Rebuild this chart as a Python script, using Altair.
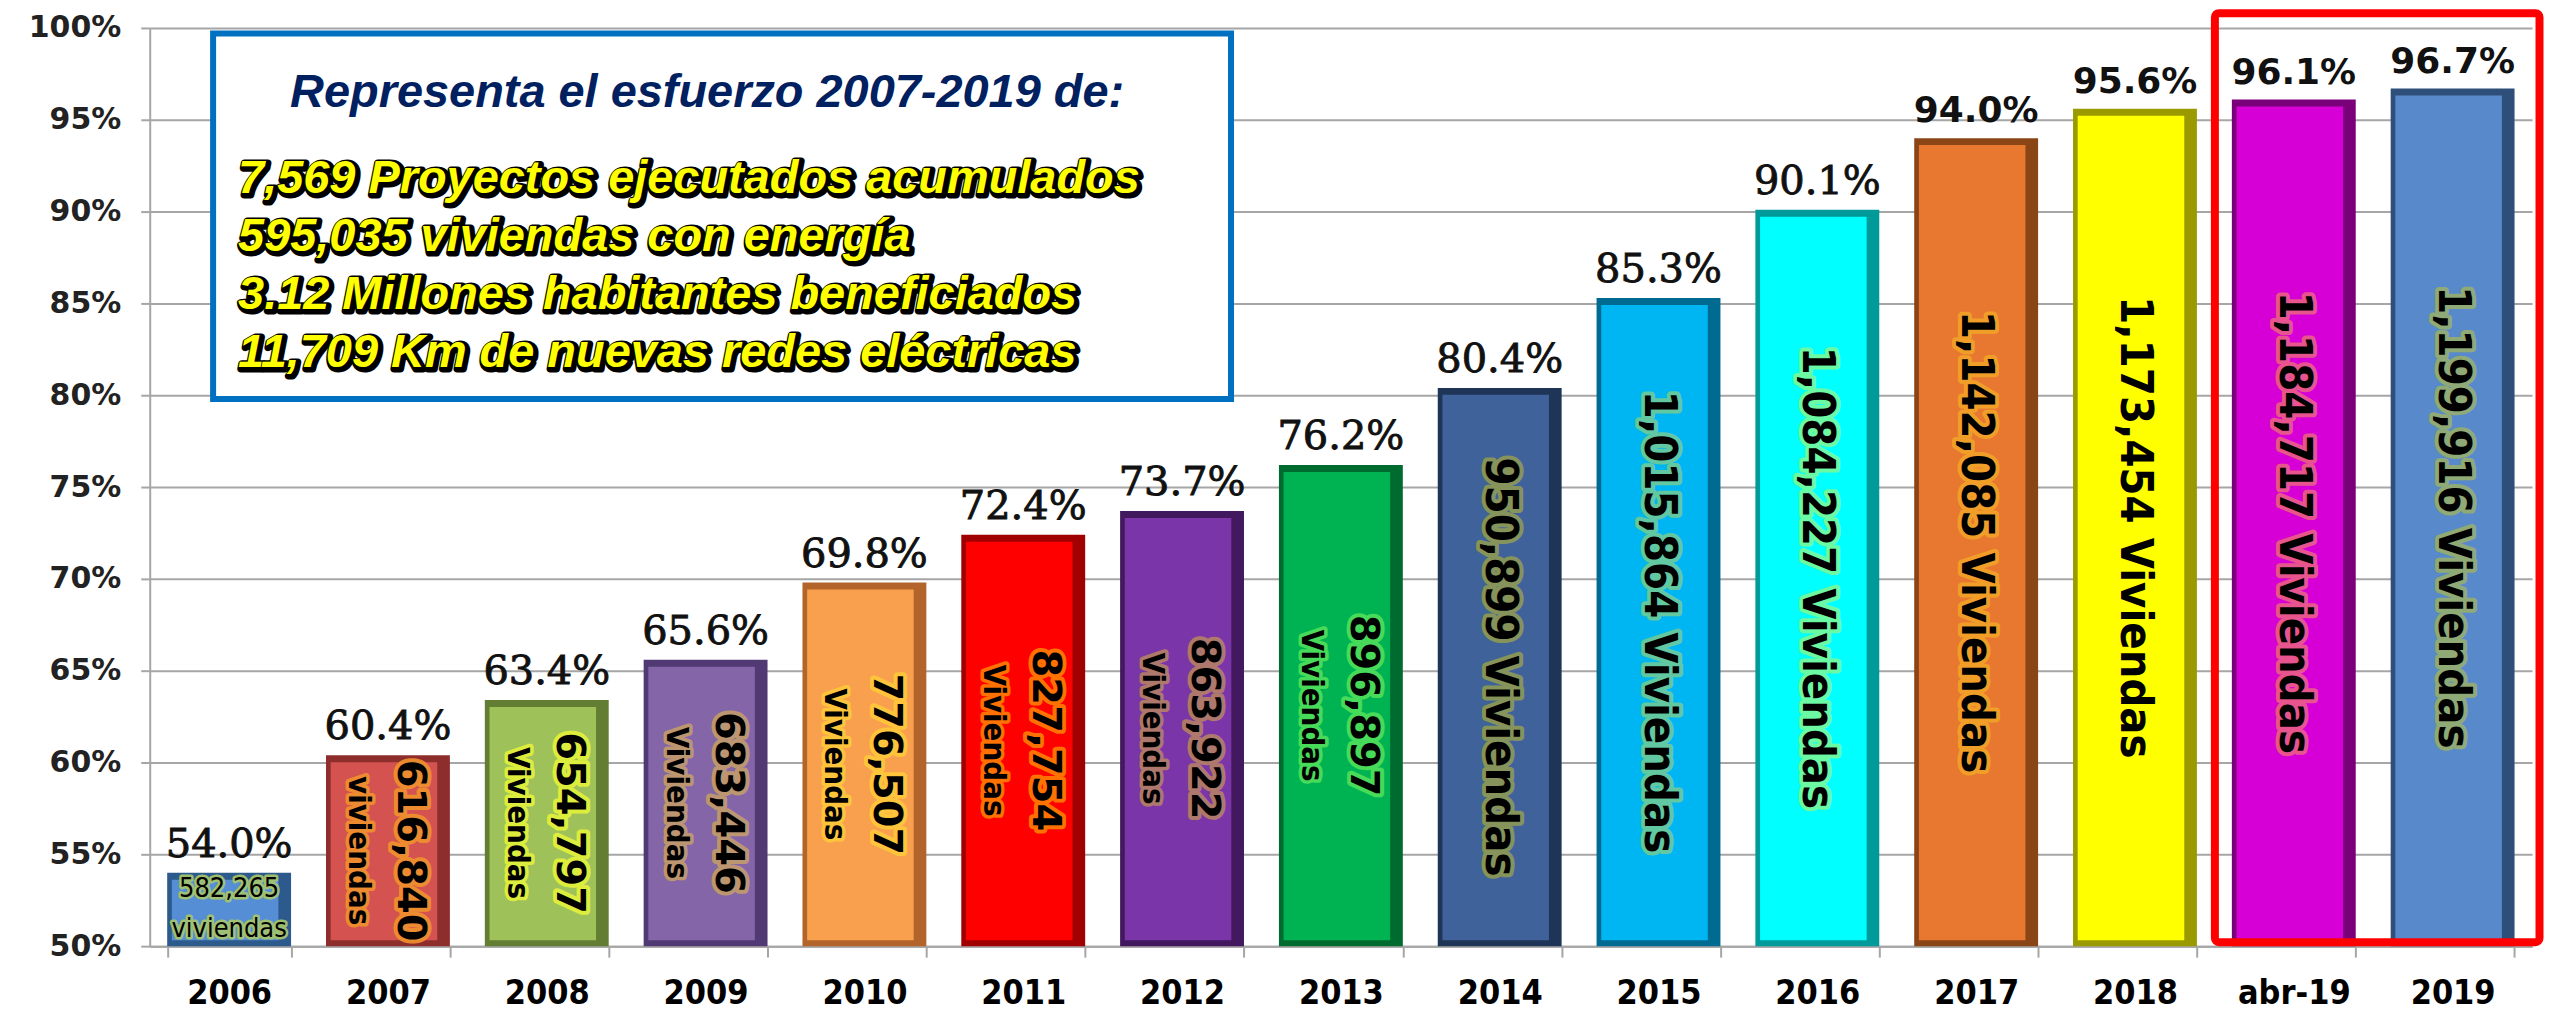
import altair as alt
import pandas as pd

# ---------------- data ----------------
CATEGORIAS = ["2006", "2007", "2008", "2009", "2010", "2011", "2012", "2013",
              "2014", "2015", "2016", "2017", "2018", "abr-19", "2019"]
PORCENTAJES = [54.0, 60.4, 63.4, 65.6, 69.8, 72.4, 73.7, 76.2,
               80.4, 85.3, 90.1, 94.0, 95.6, 96.1, 96.7]
VIVIENDAS = [582265, 616840, 654797, 683446, 776507, 827754, 863922, 896897,
             950899, 1015864, 1084227, 1142085, 1173454, 1184717, 1199916]
PALABRA = ["viviendas", "viviendas"] + ["Viviendas"] * 13

TITULO_CUADRO = "Representa el esfuerzo 2007-2019 de:"
LINEAS_CUADRO = [
    "7,569 Proyectos ejecutados acumulados",
    "595,035 viviendas con energía",
    "3.12 Millones habitantes beneficiados",
    "11,709  Km de nuevas redes eléctricas",
]

# ---------------- styles ----------------
COLOR_BARRA = ["#558ED5", "#D45350", "#9FC15A", "#8466A8", "#F9A04F", "#FF0000",
               "#7A35A8", "#00B352", "#3E6299", "#00B6F2", "#00FFFF", "#E8772F",
               "#FFFF00", "#D600D6", "#5889CB"]
COLOR_BORDE = ["#2D5A8C", "#8E2E2C", "#637D33", "#513A74", "#B2642A", "#A00000",
               "#42185F", "#006B2E", "#1F3558", "#006A90", "#009A9A", "#8A4516",
               "#9A9A00", "#7A007A", "#2E4F7A"]
COLOR_HALO = ["#A9C76A", "#F0922E", "#E4F23A", "#C19C6C", "#FFC93A", "#FF7E00",
              "#B48067", "#4FE05A", "#8E9A55", "#6CCB9A", "#78F99A", "#F2A329",
              "#FFFF00", "#EA5E86", "#95AE6E"]

GRIS = "#A6A6A6"

df = pd.DataFrame({
    "cat": CATEGORIAS,
    "pct": PORCENTAJES,
    "viv": VIVIENDAS,
    "palabra": PALABRA,
    "idx": list(range(len(CATEGORIAS))),
    "c_main": COLOR_BARRA,
    "c_dark": COLOR_BORDE,
    "c_halo": COLOR_HALO,
})

y_scale = alt.Scale(domain=[50, 100], nice=False, zero=False)
x_scale = alt.Scale(domain=CATEGORIAS, paddingInner=0.22, paddingOuter=0.11)

X_AXIS = alt.Axis(title=None, labelAngle=0, tickBand="extent", tickSize=11,
                  tickWidth=2, tickColor=GRIS, domainColor=GRIS, domainWidth=2,
                  labelFont="DejaVu Sans Condensed", labelFontSize=34,
                  labelFontWeight="bold", labelColor="#000000", labelPadding=19,
                  grid=False)
Y_AXIS = alt.Axis(title=None, values=list(range(50, 101, 5)),
                  labelExpr="datum.value + '%'", grid=True, gridColor=GRIS,
                  gridWidth=2, domainColor=GRIS, domainWidth=2, tickColor=GRIS,
                  tickWidth=2, tickSize=9, labelFont="DejaVu Sans",
                  labelFontWeight="bold", labelFontSize=30, labelColor="#222222",
                  labelPadding=20)


def xf():
    return alt.X("cat:N", sort=CATEGORIAS, scale=x_scale, axis=X_AXIS)


def yf(field):
    return alt.Y(field, scale=y_scale, axis=Y_AXIS)


def xd(cat, pos):
    return alt.XDatum(cat, type="nominal", bandPosition=pos, scale=x_scale,
                      axis=X_AXIS)


def yd(v):
    return alt.YDatum(v, type="quantitative", scale=y_scale, axis=Y_AXIS)


base = alt.Chart(df).transform_calculate(
    mid="(50 + datum.pct) / 2",
    numtxt="format(datum.viv, ',')",
    linea="format(datum.viv, ',') + ' ' + datum.palabra",
    pcttxt="format(datum.pct, '.1f') + '%'",
)

# bars (bevel look: dark base + inset main colour)
bar_dark = base.mark_bar().encode(
    x=xf(), y=yf("pct:Q"), y2=alt.datum(50),
    color=alt.Color("c_dark:N", scale=None),
)
bar_main = base.mark_bar(width=alt.RelativeBandSize(0.86), xOffset=-4,
                         yOffset=7, y2Offset=-6).encode(
    x=xf(), y=yf("pct:Q"), y2=alt.datum(50),
    color=alt.Color("c_main:N", scale=None),
)

# percentage labels
pct_serif = base.transform_filter("datum.idx <= 10").mark_text(
    font="DejaVu Serif", fontSize=40, baseline="alphabetic", dy=-16,
    color="#111111", stroke="#111111", strokeWidth=0.9).encode(
    x=xf(), y=yf("pct:Q"), text="pcttxt:N")
pct_sans = base.transform_filter("datum.idx >= 11").mark_text(
    font="DejaVu Sans", fontWeight="bold", fontSize=36, baseline="alphabetic",
    dy=-16, color="#111111").encode(x=xf(), y=yf("pct:Q"), text="pcttxt:N")


def halo_and_text(data, text_field, halo_width, **mk):
    halo = data.mark_text(strokeWidth=halo_width, strokeJoin="round",
                          opacity=0.9, **mk).encode(
        x=xf(), y=yf("mid:Q"), text=text_field,
        color=alt.Color("c_halo:N", scale=None),
        stroke=alt.Stroke("c_halo:N", scale=None))
    txt = data.mark_text(color="#000000", **mk).encode(
        x=xf(), y=yf("mid:Q"), text=text_field)
    return [halo, txt]


uno = base.transform_filter("datum.idx >= 8")
dos = base.transform_filter("datum.idx >= 1 && datum.idx <= 7")
cero = base.transform_filter("datum.idx == 0")

capas_txt = []
capas_txt += halo_and_text(uno, "linea:N", 8, angle=90, align="center",
                           baseline="middle", font="DejaVu Sans Condensed",
                           fontWeight="bold", fontSize=45)
capas_txt += halo_and_text(dos, "numtxt:N", 8, angle=90, align="center",
                           baseline="middle", font="DejaVu Sans",
                           fontWeight="bold", fontSize=40, dy=-22)
capas_txt += halo_and_text(dos, "palabra:N", 7, angle=90, align="center",
                           baseline="middle", font="DejaVu Sans Condensed",
                           fontWeight="bold", fontSize=31, dy=30)
capas_txt += halo_and_text(cero, "numtxt:N", 5, align="center",
                           baseline="middle", font="DejaVu Sans Condensed",
                           fontSize=27, dy=-20)
capas_txt += halo_and_text(cero, "palabra:N", 5, align="center",
                           baseline="middle", font="DejaVu Sans Condensed",
                           fontSize=27, dy=20)

# ---------------- annotations ----------------
uno_fila = alt.Chart(pd.DataFrame({"k": [0]}))

caja = uno_fila.mark_rect(fill="white", stroke="#0070C0", strokeWidth=6,
                          xOffset=46, x2Offset=-13).encode(
    x=xd("2006", 0),
    x2=alt.X2Datum("2012", bandPosition=1),
    y=yd(79.8), y2=alt.datum(99.7),
)

titulo = alt.Chart(pd.DataFrame({"t": [TITULO_CUADRO]})).mark_text(
    font="Liberation Sans", fontStyle="italic", fontWeight="bold", fontSize=47,
    color="#002060", align="center", baseline="middle", dx=541).encode(
    x=xd("2006", 0), y=yd(96.45), text="t:N")

bloque = pd.DataFrame({"t": ["\n".join(LINEAS_CUADRO)]})
lineas_halo = alt.Chart(bloque).mark_text(
    font="Liberation Sans", fontStyle="italic", fontWeight="bold", fontSize=47,
    color="#000000", stroke="#000000", strokeWidth=7, strokeJoin="round",
    align="left", baseline="middle", lineBreak="\n", lineHeight=58,
    dx=73, dy=2).encode(x=xd("2006", 0), y=yd(91.78), text="t:N")
lineas = alt.Chart(bloque).mark_text(
    font="Liberation Sans", fontStyle="italic", fontWeight="bold", fontSize=47,
    color="#FFFF00", align="left", baseline="middle", lineBreak="\n",
    lineHeight=58, dx=71).encode(x=xd("2006", 0), y=yd(91.78), text="t:N")

marco_rojo = uno_fila.mark_rect(fill=None, filled=False, stroke="#FF0000",
                                strokeWidth=8, cornerRadius=4, xOffset=-17,
                                x2Offset=25, yOffset=-4).encode(
    x=xd("abr-19", 0),
    x2=alt.X2Datum("2019", bandPosition=1),
    y=yd(50), y2=alt.datum(100.8),
)

chart = alt.layer(
    bar_dark, bar_main, pct_serif, pct_sans, *capas_txt,
    caja, titulo, lineas_halo, lineas, marco_rojo,
).properties(
    width=2387, height=920,
    padding={"left": 20, "top": 0, "right": 0, "bottom": 5},
    background="white",
).configure_view(stroke=None)

chart.save("out.html", embed_options={"renderer": "svg", "actions": False})
